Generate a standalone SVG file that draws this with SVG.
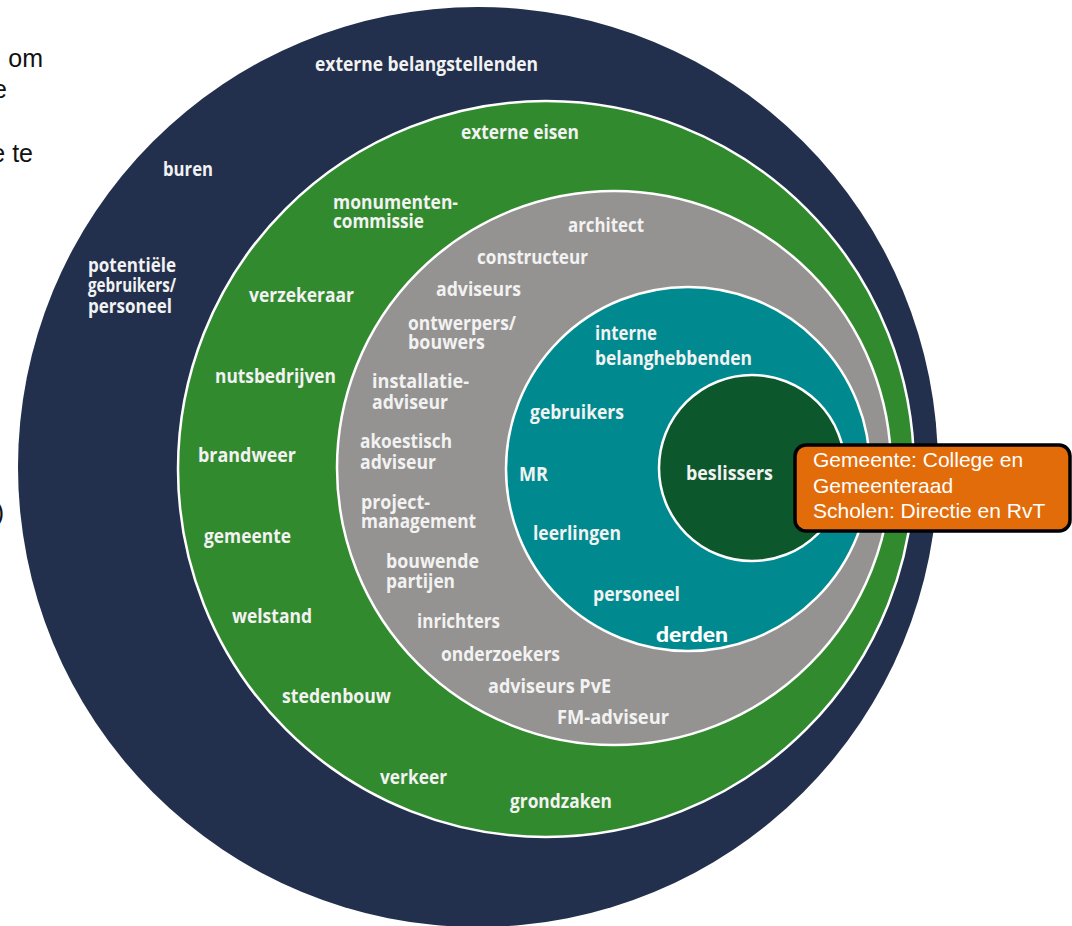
<svg xmlns="http://www.w3.org/2000/svg" width="1072" height="926" viewBox="0 0 1072 926">
<style>
.lbl{font-family:"Open Sans","DejaVu Sans",sans-serif;font-weight:700;font-size:19px;fill:#f2f2f2}
.side{font-family:"Liberation Sans",Arial,sans-serif;font-size:25px;fill:#111}
.box{font-family:"Liberation Sans",Arial,sans-serif;font-size:21px;fill:#ffffff}
.ring{stroke:#ffffff;stroke-width:2.5}
</style>
<rect width="1072" height="926" fill="#ffffff"/>
<g id="side-text">
<text class="side" x="43" y="67" text-anchor="end">om</text>
<text class="side" x="7" y="98" text-anchor="end">e</text>
<text class="side" x="33" y="162" text-anchor="end">e te</text>
<text class="side" x="4" y="521" text-anchor="end">)</text>
</g>
<g id="externe-belangstellenden">
<circle cx="478" cy="467" r="460" fill="#22304d"/>
<text class="lbl" x="315" y="71" textLength="223" lengthAdjust="spacingAndGlyphs">externe belangstellenden</text>
<text class="lbl" x="163" y="176" textLength="50" lengthAdjust="spacingAndGlyphs">buren</text>
<text class="lbl" x="88" y="272" textLength="88" lengthAdjust="spacingAndGlyphs">potentiële</text>
<text class="lbl" x="88" y="292" textLength="88" lengthAdjust="spacingAndGlyphs">gebruikers/</text>
<text class="lbl" x="88" y="313" textLength="84" lengthAdjust="spacingAndGlyphs">personeel</text>
</g>
<g id="externe-eisen">
<circle class="ring" cx="546" cy="469" r="368" fill="#328a2e"/>
<text class="lbl" x="461" y="139" textLength="118" lengthAdjust="spacingAndGlyphs">externe eisen</text>
<text class="lbl" x="333" y="209" textLength="125" lengthAdjust="spacingAndGlyphs">monumenten-</text>
<text class="lbl" x="333" y="228" textLength="91" lengthAdjust="spacingAndGlyphs">commissie</text>
<text class="lbl" x="249" y="302" textLength="105" lengthAdjust="spacingAndGlyphs">verzekeraar</text>
<text class="lbl" x="215" y="383" textLength="121" lengthAdjust="spacingAndGlyphs">nutsbedrijven</text>
<text class="lbl" x="198" y="462" textLength="98" lengthAdjust="spacingAndGlyphs">brandweer</text>
<text class="lbl" x="204" y="543" textLength="87" lengthAdjust="spacingAndGlyphs">gemeente</text>
<text class="lbl" x="232" y="623" textLength="80" lengthAdjust="spacingAndGlyphs">welstand</text>
<text class="lbl" x="282" y="703" textLength="109" lengthAdjust="spacingAndGlyphs">stedenbouw</text>
<text class="lbl" x="380" y="784" textLength="67" lengthAdjust="spacingAndGlyphs">verkeer</text>
<text class="lbl" x="510" y="808" textLength="102" lengthAdjust="spacingAndGlyphs">grondzaken</text>
</g>
<g id="ontwerpers">
<circle class="ring" cx="614" cy="468" r="277" fill="#959391"/>
<text class="lbl" x="568" y="232" textLength="76" lengthAdjust="spacingAndGlyphs">architect</text>
<text class="lbl" x="477" y="264" textLength="111" lengthAdjust="spacingAndGlyphs">constructeur</text>
<text class="lbl" x="436" y="296" textLength="85" lengthAdjust="spacingAndGlyphs">adviseurs</text>
<text class="lbl" x="408" y="330" textLength="108" lengthAdjust="spacingAndGlyphs">ontwerpers/</text>
<text class="lbl" x="408" y="349" textLength="77" lengthAdjust="spacingAndGlyphs">bouwers</text>
<text class="lbl" x="372" y="388" textLength="97" lengthAdjust="spacingAndGlyphs">installatie-</text>
<text class="lbl" x="372" y="409" textLength="76" lengthAdjust="spacingAndGlyphs">adviseur</text>
<text class="lbl" x="360" y="448" textLength="92" lengthAdjust="spacingAndGlyphs">akoestisch</text>
<text class="lbl" x="360" y="469" textLength="76" lengthAdjust="spacingAndGlyphs">adviseur</text>
<text class="lbl" x="361" y="509" textLength="69" lengthAdjust="spacingAndGlyphs">project-</text>
<text class="lbl" x="361" y="528" textLength="115" lengthAdjust="spacingAndGlyphs">management</text>
<text class="lbl" x="386" y="568" textLength="93" lengthAdjust="spacingAndGlyphs">bouwende</text>
<text class="lbl" x="386" y="588" textLength="69" lengthAdjust="spacingAndGlyphs">partijen</text>
<text class="lbl" x="417" y="628" textLength="83" lengthAdjust="spacingAndGlyphs">inrichters</text>
<text class="lbl" x="441" y="661" textLength="119" lengthAdjust="spacingAndGlyphs">onderzoekers</text>
<text class="lbl" x="488" y="693" textLength="123" lengthAdjust="spacingAndGlyphs">adviseurs PvE</text>
<text class="lbl" x="557" y="724" textLength="112" lengthAdjust="spacingAndGlyphs">FM-adviseur</text>
</g>
<g id="interne-belanghebbenden">
<circle class="ring" cx="688" cy="469" r="182" fill="#008a8f"/>
<text class="lbl" x="595" y="340" textLength="62" lengthAdjust="spacingAndGlyphs">interne</text>
<text class="lbl" x="595" y="365" textLength="157" lengthAdjust="spacingAndGlyphs">belanghebbenden</text>
<text class="lbl" x="530" y="419" textLength="94" lengthAdjust="spacingAndGlyphs">gebruikers</text>
<text class="lbl" x="519" y="481" textLength="29" lengthAdjust="spacingAndGlyphs">MR</text>
<text class="lbl" x="533" y="540" textLength="88" lengthAdjust="spacingAndGlyphs">leerlingen</text>
<text class="lbl" x="593" y="601" textLength="87" lengthAdjust="spacingAndGlyphs">personeel</text>
<text class="lbl" x="656" y="642" textLength="72" lengthAdjust="spacingAndGlyphs" style="font-family:Lato,'Open Sans',sans-serif;font-weight:900;font-size:20px;fill:#ffffff">derden</text>
</g>
<g id="beslissers">
<circle class="ring" cx="752" cy="468" r="93" fill="#0c572c"/>
<text class="lbl" x="686" y="480" textLength="87" lengthAdjust="spacingAndGlyphs">beslissers</text>
</g>
<g id="connectors"></g>
<g id="callout">
<rect x="795" y="445" width="275" height="86" rx="11" ry="11" fill="#e36c0a" stroke="#000000" stroke-width="3.5"/>
<text class="box" x="813" y="467">Gemeente: College en</text>
<text class="box" x="813" y="493">Gemeenteraad</text>
<text class="box" x="813" y="518">Scholen: Directie en RvT</text>
</g>
</svg>
